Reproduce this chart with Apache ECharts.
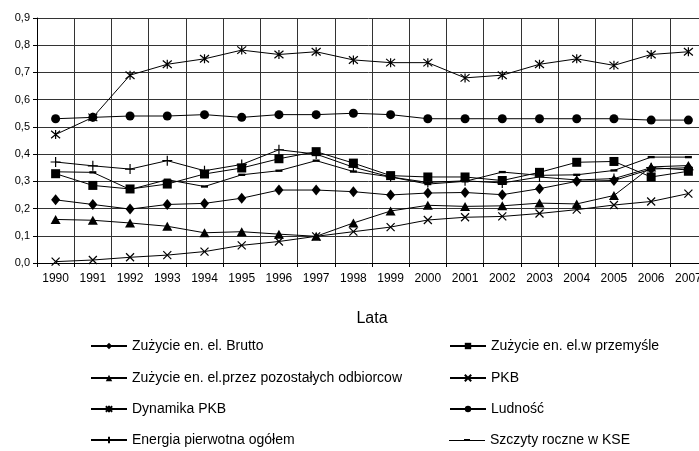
<!DOCTYPE html>
<html>
<head>
<meta charset="utf-8">
<script src="https://cdn.jsdelivr.net/npm/echarts@6/dist/echarts.min.js"></script>
<style>
  html, body { margin: 0; padding: 0; background: #fff; }
  #chart { width: 699px; height: 451px; }
</style>
</head>
<body>
<div id="chart"></div>
<script>
// lata
var years = ['1990', '1991', '1992', '1993', '1994', '1995', '1996', '1997', '1998',
  '1999', '2000', '2001', '2002', '2003', '2004', '2005', '2006', '2007']

var brutto = [0.232, 0.215, 0.198, 0.215, 0.219, 0.238, 0.268, 0.268, 0.262,
  0.250, 0.257, 0.259, 0.251, 0.273, 0.300, 0.303, 0.345, 0.350]
var przemysl = [0.328, 0.285, 0.272, 0.290, 0.327, 0.349, 0.383, 0.409, 0.367,
  0.321, 0.316, 0.316, 0.303, 0.333, 0.370, 0.373, 0.316, 0.337]
var pozostali = [0.160, 0.157, 0.147, 0.135, 0.111, 0.115, 0.106, 0.098, 0.147,
  0.191, 0.212, 0.208, 0.210, 0.220, 0.217, 0.248, 0.353, 0.358]
var pkb = [0.005, 0.011, 0.021, 0.029, 0.042, 0.065, 0.079, 0.098, 0.115,
  0.132, 0.158, 0.168, 0.171, 0.182, 0.196, 0.213, 0.226, 0.255]
var dynamikaPkb = [0.472, 0.535, 0.690, 0.730, 0.750, 0.782, 0.766, 0.776, 0.746,
  0.736, 0.736, 0.680, 0.690, 0.730, 0.750, 0.726, 0.766, 0.776]
var ludnosc = [0.530, 0.535, 0.540, 0.540, 0.545, 0.535, 0.545, 0.545, 0.550,
  0.545, 0.530, 0.530, 0.530, 0.530, 0.530, 0.530, 0.525, 0.525]
var energia = [0.371, 0.357, 0.345, 0.376, 0.339, 0.362, 0.416, 0.400, 0.352,
  0.316, 0.296, 0.302, 0.294, 0.316, 0.305, 0.310, 0.350, 0.342]
var szczyty = [0.335, 0.333, 0.270, 0.306, 0.281, 0.324, 0.339, 0.376, 0.336,
  0.316, 0.290, 0.300, 0.334, 0.322, 0.324, 0.340, 0.389, 0.389]

var yTicks = [0, 0.1, 0.2, 0.3, 0.4, 0.5, 0.6, 0.7, 0.8, 0.9]

// kolejnosc legendy: lewa i prawa kolumna
var legendLeft = ['Zużycie en. el. Brutto', 'Zużycie en. el.przez pozostałych odbiorcow',
  'Dynamika PKB', 'Energia pierwotna ogółem']
var legendRight = ['Zużycie en. el.w przemyśle', 'PKB', 'Ludność', 'Szczyty roczne w KSE']

// znaczniki rysowane kreską
var symX = 'path://M0,0L10,10M10,0L0,10'
var symStar = 'path://M0,0L10,10M10,0L0,10M5,-1L5,11'
var symPlus = 'path://M5,0L5,10M0,5L10,5'
var symDash = 'path://M0,0L6,0L6,2L0,2Z'
// ikona legendy dla kreski: linia + krotki prostokat
var iconDash = 'path://M0,4L36,4L36,5L0,5ZM15,3L21,3L21,5L15,5Z'

var fontFamily = '"Liberation Sans", Arial, sans-serif'

function line(name, data, symbol, size, stroke) {
  return {
    name: name,
    type: 'line',
    data: data,
    symbol: symbol,
    symbolSize: size,
    symbolKeepAspect: symbol === symDash,
    showSymbol: true,
    animation: false,
    lineStyle: { color: '#000', width: 1 },
    itemStyle: stroke
      ? { color: '#000', borderColor: '#000', borderWidth: 1.2 }
      : { color: '#000', borderWidth: 0 },
    emphasis: { disabled: true }
  }
}

// jedna legenda na pozycje, zeby nic sie nie zawijalo
var legends = []
var rowTops = [338, 370, 401, 432]
function addLegend(names, left) {
  for (var i = 0; i < names.length; i++) {
    var item = { name: names[i] }
    if (names[i] === 'Szczyty roczne w KSE') item.icon = iconDash
    legends.push({
      left: left,
      top: rowTops[i],
      itemWidth: 36,
      itemHeight: 8,
      padding: 0,
      textStyle: { fontSize: 14, color: '#000', lineHeight: 16, fontFamily: fontFamily },
      data: [item]
    })
  }
}
addLegend(legendLeft, 90)
addLegend(legendRight, 449)

var chart = echarts.init(document.getElementById('chart'))

chart.setOption({
  backgroundColor: '#fff',
  textStyle: { fontFamily: fontFamily },
  grid: { left: 37, top: 18, width: 670, bottom: 188, outerBoundsMode: 'none', containLabel: false },
  legend: legends,
  xAxis: {
    type: 'category',
    data: years,
    boundaryGap: true,
    name: 'Lata',
    nameLocation: 'middle',
    nameGap: 56,
    nameTextStyle: { fontSize: 16, color: '#000', verticalAlign: 'middle' },
    axisLine: { lineStyle: { color: '#000', width: 1 } },
    axisTick: { show: true, length: 4, interval: 0, lineStyle: { color: '#000' } },
    axisLabel: { interval: 0, fontSize: 12, color: '#000', margin: 10, hideOverlap: false },
    splitLine: { show: true, interval: 0, lineStyle: { color: '#333', width: 1 } }
  },
  yAxis: {
    type: 'value',
    min: yTicks[0],
    max: yTicks[yTicks.length - 1],
    interval: 0.1,
    axisLine: { show: true, lineStyle: { color: '#000', width: 1 } },
    axisTick: { show: true, length: 4, lineStyle: { color: '#000' } },
    axisLabel: {
      fontSize: 11,
      color: '#000',
      margin: 7,
      formatter: function (v) { return v.toFixed(1).replace('.', ',') }
    },
    splitLine: { show: true, lineStyle: { color: '#333', width: 1 } }
  },
  series: [
    line('Zużycie en. el. Brutto', brutto, 'diamond', [9, 11], false),
    line('Zużycie en. el.w przemyśle', przemysl, 'rect', 9, false),
    line('Zużycie en. el.przez pozostałych odbiorcow', pozostali, 'triangle', [10, 9], false),
    line('PKB', pkb, symX, 8, true),
    line('Dynamika PKB', dynamikaPkb, symStar, 9, true),
    line('Ludność', ludnosc, 'circle', 9, false),
    line('Energia pierwotna ogółem', energia, symPlus, 10, true),
    line('Szczyty roczne w KSE', szczyty, symDash, 7, false)
  ]
})
</script>
</body>
</html>
